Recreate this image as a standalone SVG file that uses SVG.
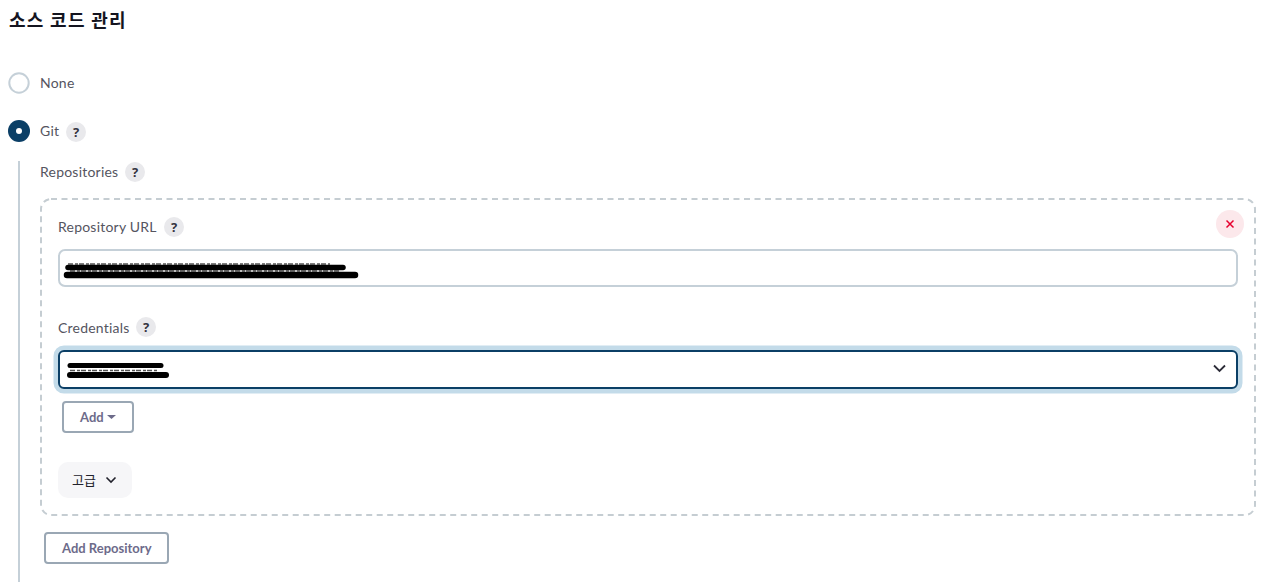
<svg xmlns="http://www.w3.org/2000/svg" width="1283" height="582" viewBox="0 0 1283 582">
<style>
text{font-family:Lato,"Noto Sans CJK KR","Noto Sans",sans-serif;}
.lbl{font-size:14px;fill:#55555f;letter-spacing:.22px}
.q{font-size:13px;font-weight:700;fill:#333340;text-anchor:middle;font-family:"Noto Sans",sans-serif}
.qc{fill:#e9e9ec}
.btn{fill:#fff;stroke:#9aa7b4;stroke-width:2}
.bt{font-size:13px;font-weight:700;fill:#6d6b8a}
.red{fill:none;stroke:#000;stroke-linecap:round}
.rest{fill:none;stroke:#555;stroke-width:1.500;stroke-dasharray:5 2 3 1}
</style>
<rect width="1283" height="582" fill="#fff"/>
<g id="title"><text x="9" y="27" font-size="18" font-weight="700" fill="#14141f" style="font-family:'Noto Sans CJK KR',sans-serif" letter-spacing="1.300">소스 코드 관리</text></g>
<g id="none"><circle cx="19" cy="83" r="9.7" fill="#fff" stroke="#c5d0d8" stroke-width="2"/><text class="lbl" x="40" y="88">None</text></g>
<g id="git"><circle cx="19" cy="131" r="11" fill="#0b3f66"/><circle cx="19" cy="131" r="3" fill="#fff"/><text class="lbl" x="40" y="136">Git</text><circle class="qc" cx="76" cy="132" r="10"/><text class="q" x="76" y="137">?</text></g>
<g id="git-rule"><rect x="18" y="161" width="2" height="421" fill="#c5d0d8"/></g>
<g id="repositories"><text class="lbl" x="40" y="177">Repositories</text><circle class="qc" cx="135" cy="172" r="10"/><text class="q" x="135" y="177">?</text></g>
<g id="repo-box"><rect x="41" y="199" width="1214" height="316" rx="10" fill="#fff" stroke="#c5cdd2" stroke-width="2" stroke-dasharray="6 4.500"/></g>
<g id="remove"><circle cx="1230" cy="224" r="14" fill="#fce8eb"/><path d="M1226.500 220.500l7 7m0-7l-7 7" fill="none" stroke="#e6002e" stroke-width="1.500"/></g>
<g id="url"><text class="lbl" x="58" y="232">Repository URL</text><circle class="qc" cx="174" cy="227" r="10"/><text class="q" x="174" y="232">?</text>
<rect x="59" y="250" width="1178" height="36" rx="6" fill="#fff" stroke="#c5d0d8" stroke-width="2"/>
<path class="rest" d="M68 264H330M70 271H340"/>
<path class="red" stroke-width="5.500" d="M68 267.500H343"/><path class="red" stroke-width="6.500" d="M67 275H355"/></g>
<g id="credentials"><text class="lbl" x="58" y="333">Credentials</text><circle class="qc" cx="146" cy="327" r="10"/><text class="q" x="146" y="332">?</text>
<rect x="56" y="348" width="1184" height="43" rx="8" fill="#fff" stroke="#c3dbe9" stroke-width="5"/>
<rect x="59" y="351" width="1178" height="37" rx="5" fill="#fff" stroke="#0b3f66" stroke-width="2"/>
<path class="rest" d="M70 370.500H158"/>
<path class="red" stroke-width="5" d="M70 365.500H161"/><path class="red" stroke-width="6" d="M70 375H166"/>
<path d="M1214 365.500l5.500 5.500 5.500-5.500" fill="none" stroke="#2c2c38" stroke-width="1.800"/></g>
<g id="add"><rect class="btn" x="63" y="402" width="70" height="30" rx="3"/><text class="bt" x="80" y="422">Add</text><path d="M107 415h9l-4.500 4z" fill="#6d6b8a"/></g>
<g id="advanced"><rect x="58" y="462" width="74" height="36" rx="10" fill="#f6f6f8"/><text x="72" y="485" font-size="13" fill="#22222c" style="font-family:'Noto Sans CJK KR',sans-serif">고급</text><path d="M106.500 477.500l4.500 4.500 4.500-4.500" fill="none" stroke="#22222c" stroke-width="1.600"/></g>
<g id="add-repository"><rect class="btn" x="45" y="533" width="123" height="30" rx="3"/><text class="bt" x="62" y="553">Add Repository</text></g>
</svg>
